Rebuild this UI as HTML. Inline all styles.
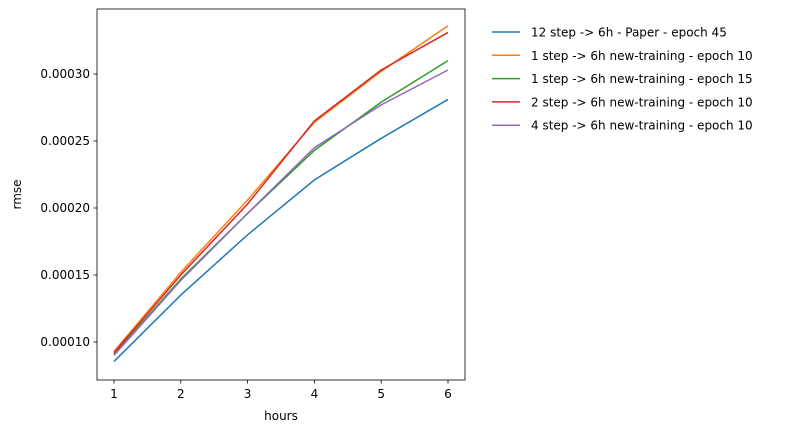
<!DOCTYPE html>
<html><head><meta charset="utf-8"><style>
body{margin:0;background:#fff;font-family:"Liberation Sans","DejaVu Sans",sans-serif;}
svg text{font-family:"DejaVu Sans","Liberation Sans",sans-serif;font-size:12px;fill:#000;}
</style></head><body>
<svg id="chart" width="802" height="432"></svg>
<script>
const hours=[1,2,3,4,5,6];
const seriesNames=["12 step -> 6h - Paper - epoch 45","1 step -> 6h new-training - epoch 10","1 step -> 6h new-training - epoch 15","2 step -> 6h new-training - epoch 10","4 step -> 6h new-training - epoch 10"];
const s0=[0.0000855,0.000135,0.000180,0.000221,0.000252,0.000281];
const s1=[0.000093,0.000152,0.000206,0.000264,0.000302,0.000336];
const s2=[0.000091,0.000147,0.000196,0.000243,0.000279,0.000310];
const s3=[0.000092,0.000150,0.000203,0.000265,0.000303,0.000331];
const s4=[0.000090,0.000146,0.000196,0.000245,0.000277,0.000303];
const yTicks=[0.00010,0.00015,0.00020,0.00025,0.00030];
const yTickLabels=["0.00010","0.00015","0.00020","0.00025","0.00030"];
const xTicks=[1,2,3,4,5,6];
const colors=["#1f77b4","#ff7f0e","#2ca02c","#d62728","#9467bd"];
const NS="http://www.w3.org/2000/svg";
const svg=document.getElementById('chart');
const L=97,R=465,T=9,B=380;
const x=v=>114+(v-1)*(448-114)/5;
const y=v=>342-(v-0.0001)*(67/0.00005);
function mk(tag,attrs,parent){const e=document.createElementNS(NS,tag);for(const k in attrs)e.setAttribute(k,attrs[k]);(parent||svg).appendChild(e);return e;}
const all=[s0,s1,s2,s3,s4];
all.forEach((s,i)=>{
 const p=mk('polyline',{points:s.map((v,j)=>x(hours[j])+','+y(v)).join(' '),fill:'none',stroke:colors[i],'stroke-width':1.5});
 
 
});
const frame=mk('rect',{x:L,y:T,width:R-L,height:B-T,fill:'none',stroke:'#000','stroke-width':0.8});


xTicks.forEach(v=>{
 mk('line',{x1:x(v),x2:x(v),y1:B,y2:B+3.5,stroke:'#000','stroke-width':0.8});
 const t=mk('text',{x:x(v),y:B+18,'text-anchor':'middle'});t.textContent=v;
 
 
});
yTicks.forEach((v,i)=>{
 mk('line',{x1:L-3.5,x2:L,y1:y(v),y2:y(v),stroke:'#000','stroke-width':0.8});
 const t=mk('text',{x:L-7,y:y(v)+4,'text-anchor':'end'});t.textContent=yTickLabels[i];
 
 
});
const xt=mk('text',{x:(L+R)/2,y:420,'text-anchor':'middle'});xt.textContent='hours';


const yt=mk('text',{x:21,y:(T+B)/2,'text-anchor':'middle',transform:'rotate(-90 21 '+((T+B)/2)+')'});yt.textContent='rmse';


seriesNames.forEach((n,i)=>{
 const g=mk('g',{});
 
 
 const yy=32+i*23.3;
 mk('line',{x1:492,x2:520,y1:yy,y2:yy,stroke:colors[i],'stroke-width':1.5},g);
 const t=mk('text',{x:531,y:yy+4.5},g);t.textContent=n;
});
</script>
</body></html>
